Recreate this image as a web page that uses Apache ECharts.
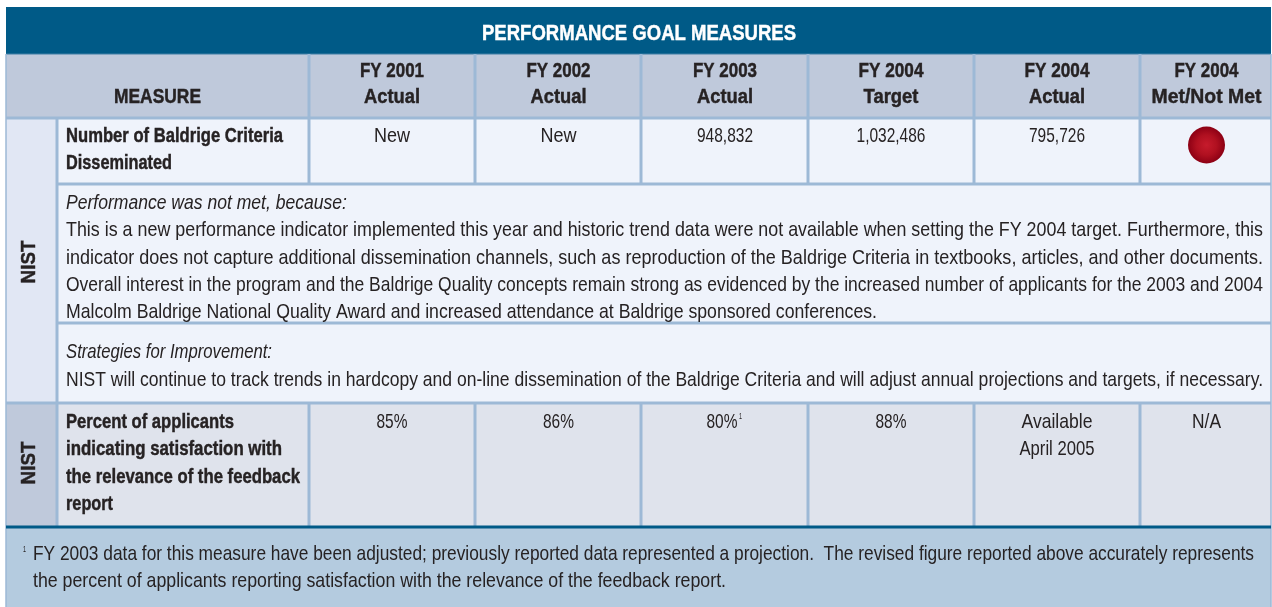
<!DOCTYPE html>
<html>
<head>
<meta charset="utf-8">
<style>html,body{margin:0;padding:0;background:#fff}#c{width:1272px;height:607px}</style>
<script src="https://cdn.jsdelivr.net/npm/echarts@6/dist/echarts.min.js"></script>
</head>
<body>
<div id="c"></div>
<script>
var titleText = 'PERFORMANCE GOAL MEASURES';
var measureHeader = 'MEASURE';
var columnYears = ['FY 2001', 'FY 2002', 'FY 2003', 'FY 2004', 'FY 2004', 'FY 2004'];
var columnKinds = ['Actual', 'Actual', 'Actual', 'Target', 'Actual', 'Met/Not Met'];
var orgLabel = 'NIST';
var measure1 = ['Number of Baldrige Criteria', 'Disseminated'];
var values1 = ['New', 'New', '948,832', '1,032,486', '795,726'];
var notMetHeading = 'Performance was not met, because:';
var notMetLines = [
  'This is a new performance indicator implemented this year and historic trend data were not available when setting the FY 2004 target. Furthermore, this',
  'indicator does not capture additional dissemination channels, such as reproduction of the Baldrige Criteria in textbooks, articles, and other documents.',
  'Overall interest in the program and the Baldrige Quality concepts remain strong as evidenced by the increased number of applicants for the 2003 and 2004',
  'Malcolm Baldrige National Quality Award and increased attendance at Baldrige sponsored conferences.'
];
var strategyHeading = 'Strategies for Improvement:';
var strategyLine = 'NIST will continue to track trends in hardcopy and on-line dissemination of the Baldrige Criteria and will adjust annual projections and targets, if necessary.';
var measure2 = ['Percent of applicants', 'indicating satisfaction with', 'the relevance of the feedback', 'report'];
var values2 = ['85%', '86%', '80%', '88%', 'Available', 'N/A'];
var values2Extra = 'April 2005';
var footnoteMark = '1';
var footnoteLines = [
  'FY 2003 data for this measure have been adjusted; previously reported data represented a projection.  The revised figure reported above accurately represents',
  'the percent of applicants reporting satisfaction with the relevance of the feedback report.'
];

var FONT = '"Liberation Sans Narrow","Liberation Sans",sans-serif';
var INK = '#262223';
var LINE = '#9db9d6';
var mctx = document.createElement('canvas').getContext('2d');
var els = [];

function rect(x0, y0, x1, y1, fill) {
  els.push({type: 'rect', silent: true, shape: {x: x0, y: y0, width: x1 - x0, height: y1 - y0}, style: {fill: fill}});
}
function txt(s, x, y, o) {
  o = o || {};
  var size = o.size || 21, weight = o.bold ? 'bold' : 'normal', style = o.italic ? 'italic' : 'normal';
  var align = o.align || 'center';
  var font = style + ' ' + weight + ' ' + size + 'px ' + FONT;
  mctx.font = font;
  var natural = mctx.measureText(s).width;
  var sx = o.w ? o.w / natural : 1;
  var color = o.fill || INK;
  var st = {text: s, x: 0, y: 0, fill: color, font: font, align: align, verticalAlign: 'middle'};
  if (o.bold) { st.stroke = color; st.lineWidth = 0.45; }
  els.push({type: 'text', silent: true, x: x, y: y, scaleX: sx, rotation: o.rot || 0, style: st});
}

/* page geometry */
var L = 6, R = 1271, T = 7, B = 607;
var colX = [309, 475, 641, 808, 974, 1140];
var colC = [392, 558.5, 725, 891, 1057, 1206.5];
var orgX = 57;
var rowY = {title: 54, head: 118, r1: 184, note1: 323, note2: 403, r2: 527};

/* fills */
rect(L, T, R, rowY.title, '#005a87');
rect(L, rowY.title, R, rowY.head, '#bfc9db');
rect(L, rowY.head, orgX, rowY.note2, '#e1e7f4');
rect(orgX, rowY.head, R, rowY.note2, '#eff3fb');
rect(L, rowY.note2, orgX, rowY.r2, '#bfc9db');
rect(orgX, rowY.note2, R, rowY.r2, '#dfe3ec');
rect(L, rowY.r2, R, B, '#b4cbdf');

/* rules */
function h(y, x0, x1, c, t) { rect(x0, y - t / 2, x1, y + t / 2, c); }
function v(x, y0, y1, c, t) { rect(x - t / 2, y0, x + t / 2, y1, c); }
h(rowY.title, L, R, '#3f7fa6', 1);
h(rowY.head, L, R, LINE, 3);
h(rowY.r1, orgX, R, LINE, 3);
h(rowY.note1, orgX, R, LINE, 3);
h(rowY.note2, L, R, LINE, 3);
colX.forEach(function (x) {
  v(x, rowY.title, rowY.head, LINE, 3);
  v(x, rowY.head, rowY.r1, LINE, 3);
  v(x, rowY.note2, rowY.r2, LINE, 3);
});
v(orgX, rowY.head, rowY.r2, LINE, 3);
v(L, rowY.title, B, LINE, 1.5);
v(R, rowY.title, B, LINE, 1.5);
h(rowY.r2, L, R, '#005a87', 3);

/* title + header */
txt(titleText, 639, 34, {bold: true, fill: '#fff', size: 22, w: 314});
txt(measureHeader, 157.5, 97, {bold: true, w: 87});
var yearW = [64, 64, 64, 65, 65, 64], kindW = [56, 56, 56, 55, 56, 110];
columnYears.forEach(function (s, i) {
  txt(s, colC[i], 71, {bold: true, w: yearW[i]});
  txt(columnKinds[i], colC[i], 97, {bold: true, w: kindW[i]});
});

/* org labels */
txt(orgLabel, 29, 262, {bold: true, rot: Math.PI / 2, w: 43});
txt(orgLabel, 29, 463, {bold: true, rot: Math.PI / 2, w: 43});

/* row 1 */
txt(measure1[0], 66, 136, {bold: true, align: 'left', w: 217});
txt(measure1[1], 66, 163, {bold: true, align: 'left', w: 106});
var v1W = [36, 36, 56, 69, 56];
values1.forEach(function (s, i) { txt(s, colC[i], 136, {w: v1W[i]}); });

/* status marker */
els.push({
  type: 'circle', silent: true, shape: {cx: 1206.5, cy: 145, r: 18.5},
  style: {fill: new echarts.graphic.RadialGradient(0.5, 0.5, 0.5, [
    {offset: 0, color: '#c61b2c'}, {offset: 0.55, color: '#b01020'}, {offset: 1, color: '#8c0014'}
  ])}
});

/* notes */
txt(notMetHeading, 66, 203, {italic: true, align: 'left', w: 281});
var noteY = [230, 258, 285, 312], noteW = [1197, 1197, 1197, 811];
notMetLines.forEach(function (s, i) { txt(s, 66, noteY[i], {align: 'left', w: noteW[i]}); });
txt(strategyHeading, 66, 352, {italic: true, align: 'left', w: 206});
txt(strategyLine, 66, 380, {align: 'left', w: 1197});

/* row 2 */
var m2Y = [422, 449, 477, 504], m2W = [168, 216, 234, 47];
measure2.forEach(function (s, i) { txt(s, 66, m2Y[i], {bold: true, align: 'left', w: m2W[i]}); });
var v2W = [31, 31, 31, 31, 71, 29];
var v2C = [392, 558.5, 722, 891, 1057, 1206.5];
values2.forEach(function (s, i) { txt(s, v2C[i], 422, {w: v2W[i]}); });
txt(footnoteMark, 739, 417, {size: 9, align: 'left', w: 3});
txt(values2Extra, 1057, 449, {w: 75});

/* footnote */
txt(footnoteMark, 23, 550, {size: 9, align: 'left', w: 3});
txt(footnoteLines[0], 33, 554, {align: 'left', w: 1221});
txt(footnoteLines[1], 33, 581, {align: 'left', w: 693});

var chart = echarts.init(document.getElementById('c'), null, {renderer: 'canvas', width: 1272, height: 607});
chart.setOption({animation: false, backgroundColor: '#fff', graphic: {elements: els}});
</script>
</body>
</html>
